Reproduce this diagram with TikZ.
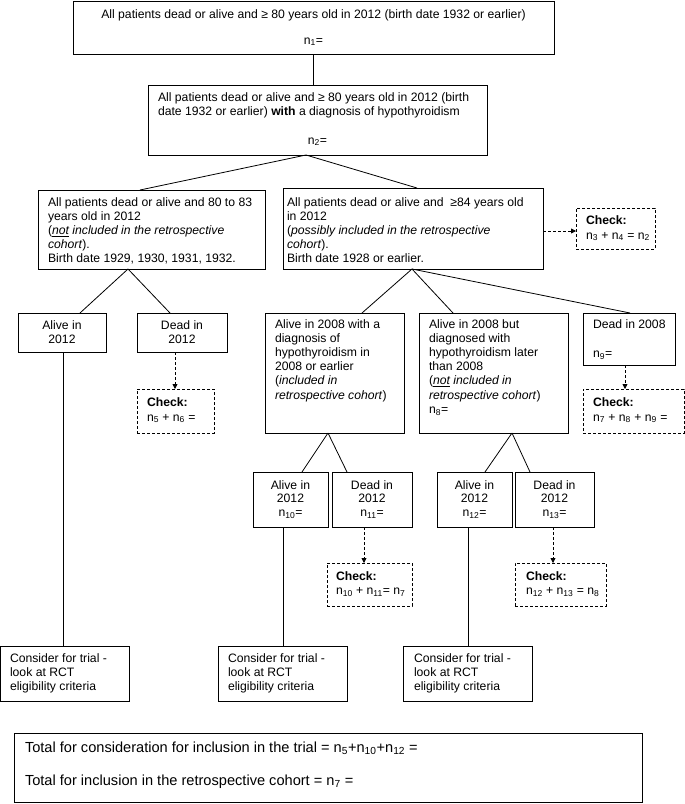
\documentclass[tikz,border=0pt]{standalone}
\usepackage{fontspec}
\setmainfont{Liberation Sans}
\usetikzlibrary{arrows.meta,fit,calc}
\newcommand{\ns}[1]{n\textsubscript{#1}}
\newcommand{\tl}[1]{\begin{tabular}[t]{@{}l@{}}#1\end{tabular}}
\newcommand{\tc}[1]{\begin{tabular}[t]{@{}c@{}}#1\end{tabular}}
\newcommand{\mybox}[6][]{\node[boxst,#1,fit={(#3,-#4) (#5,-#6)}] (#2) {};}
\tikzset{
  boxst/.style={draw=black, line width=0.8pt, rectangle, inner sep=0pt, outer sep=0pt},
  chkst/.style={boxst, dash pattern=on 3pt off 2pt},
  txt/.style={inner sep=0pt, outer sep=0pt, font=\fontsize{12.2}{14.2}\selectfont},
  bigtxt/.style={txt, font=\fontsize{14.6}{17}\selectfont},
  conn/.style={draw=black, line width=0.8pt},
  dconn/.style={conn, dash pattern=on 3pt off 2pt, -{Triangle[length=5pt,width=5pt]}}
}
\begin{document}
\begin{tikzpicture}[x=1pt,y=1pt]
\useasboundingbox (0,0) rectangle (685,-804);
% boxes
\mybox{b1}{73}{1.5}{554}{54}
\mybox{b2}{148}{85}{487}{155}
\mybox{b3}{38}{190}{265}{269}
\mybox{b4}{283}{188}{543}{269}
\mybox[chkst]{c1}{576}{208}{655}{249}
\mybox{a5}{18}{313}{106}{352}
\mybox{d6}{137}{313}{227}{352}
\mybox[chkst]{c56}{137}{389}{214}{433}
\mybox{ba}{265}{313}{404}{433}
\mybox{bb}{419}{313}{568}{433}
\mybox{d9}{583}{313}{675}{365}
\mybox[chkst]{c9}{583}{389}{684}{433}
\mybox{a10}{253}{472}{328}{527}
\mybox{d11}{332}{472}{412}{527}
\mybox{a12}{437}{472}{512}{527}
\mybox{d13}{515}{472}{594}{527}
\mybox[chkst]{c11}{327}{563}{412}{606}
\mybox[chkst]{c13}{515}{563}{606}{606}
\mybox{k1}{0.5}{646}{129}{701}
\mybox{k2}{218}{646}{347}{701}
\mybox{k3}{403}{646}{532}{701}
\mybox{tot}{14}{733}{642}{802.5}
% texts
\node[txt, anchor=base] (b1t) at (313.5,-18) {All patients dead or alive and ≥ 80 years old in 2012 (birth date 1932 or earlier)};
\node[txt, anchor=base] (b1n) at (313.5,-44) {\ns{1}=};
\node[txt, anchor=base west] (b2t) at (158,-101) {\tl{All patients dead or alive and ≥ 80 years old in 2012 (birth\\date 1932 or earlier) \textbf{with} a diagnosis of hypothyroidism}};
\node[txt, anchor=base] (b2n) at (317.5,-144) {\ns{2}=};
\node[txt, anchor=base west] (b3t) at (48,-206) {\tl{All patients dead or alive and 80 to 83\\years old in 2012\\(\textit{\underline{not} included in the retrospective}\\\textit{cohort}).\\Birth date 1929, 1930, 1931, 1932.}};
\node[txt, anchor=base west] (b4t) at (287,-206) {\tl{All patients dead or alive and \ ≥84 years old\\in 2012\\(\textit{possibly included in the retrospective}\\\textit{cohort}).\\Birth date 1928 or earlier.}};
\node[txt, anchor=base west] (c1t) at (586,-224) {\tl{\textbf{Check:}\\[0.8pt]\ns{3} + \ns{4} = \ns{2}}};
\node[txt, anchor=base] (a5t) at (62,-329) {\tc{Alive in\\2012}};
\node[txt, anchor=base] (d6t) at (182,-329) {\tc{Dead in\\2012}};
\node[txt, anchor=base west] (c56t) at (147,-406) {\tl{\textbf{Check:}\\[0.8pt]\ns{5} + \ns{6} =}};
\node[txt, anchor=base west] (bat) at (275,-328) {\tl{Alive in 2008 with a\\diagnosis of\\hypothyroidism in\\2008 or earlier\\(\textit{included in}\\\textit{retrospective cohort})}};
\node[txt, anchor=base west] (bbt) at (429,-328) {\tl{Alive in 2008 but\\diagnosed with\\hypothyroidism later\\than 2008\\(\textit{\underline{not} included in}\\\textit{retrospective cohort})\\\ns{8}=}};
\node[txt, anchor=base west] (d9t) at (593,-328) {\tl{Dead in 2008\\[15.5pt]\ns{9}=}};
\node[txt, anchor=base west] (c9t) at (593,-406) {\tl{\textbf{Check:}\\[0.8pt]\ns{7} + \ns{8} + \ns{9} =}};
\node[txt, anchor=base] (a10t) at (290.5,-489) {\tc{Alive in\\[-0.6pt]2012\\[-0.6pt]\ns{10}=}};
\node[txt, anchor=base] (d11t) at (372,-489) {\tc{Dead in\\[-0.6pt]2012\\[-0.6pt]\ns{11}=}};
\node[txt, anchor=base] (a12t) at (474.5,-489) {\tc{Alive in\\[-0.6pt]2012\\[-0.6pt]\ns{12}=}};
\node[txt, anchor=base] (d13t) at (554.5,-489) {\tc{Dead in\\[-0.6pt]2012\\[-0.6pt]\ns{13}=}};
\node[txt, anchor=base west] (c11t) at (336,-580) {\tl{\textbf{Check:}\\\ns{10} + \ns{11}= \ns{7}}};
\node[txt, anchor=base west] (c13t) at (526,-580) {\tl{\textbf{Check:}\\\ns{12} + \ns{13} = \ns{8}}};
\node[txt, anchor=base west] (k1t) at (10,-662) {\tl{Consider for trial -\\look at RCT\\eligibility criteria}};
\node[txt, anchor=base west] (k2t) at (228,-662) {\tl{Consider for trial -\\look at RCT\\eligibility criteria}};
\node[txt, anchor=base west] (k3t) at (414,-662) {\tl{Consider for trial -\\look at RCT\\eligibility criteria}};
\node[bigtxt, anchor=base west] (tott) at (25,-752) {\tl{Total for consideration for inclusion in the trial = \ns{5}+\ns{10}+\ns{12} =\\[16pt]Total for inclusion in the retrospective cohort = \ns{7} =}};
% connectors
\draw[conn] (b1.south) -- (b1.south |- b2.north);
\draw[conn] ($(b2.south west)+(158,0)$) -- ($(b3.north west)+(102,0)$);
\draw[conn] ($(b2.south west)+(158,0)$) -- ($(b4.north west)+(134,0)$);
\draw[conn] ($(b3.south west)+(90,0)$) -- ($(a5.north west)+(62,0)$);
\draw[conn] ($(b3.south west)+(90,0)$) -- ($(d6.north west)+(33,0)$);
\draw[conn] ($(b4.south west)+(129,0)$) -- ($(ba.north west)+(97,0)$);
\draw[conn] ($(b4.south west)+(129,0)$) -- ($(bb.north west)+(34,0)$);
\draw[conn] ($(b4.south west)+(129,0)$) -- ($(d9.north west)+(47,0)$);
\draw[conn] ($(ba.south west)+(63,0)$) -- ($(a10.north west)+(49,0)$);
\draw[conn] ($(ba.south west)+(63,0)$) -- ($(d11.north west)+(15,0)$);
\draw[conn] ($(bb.south west)+(93,0)$) -- ($(a12.north west)+(48,0)$);
\draw[conn] ($(bb.south west)+(93,0)$) -- ($(d13.north west)+(15,0)$);
\draw[conn] ($(a5.south west)+(45,0)$) -- ($(k1.north west)+(62.5,0)$);
\draw[conn] ($(a10.south west)+(30,0)$) -- ($(k2.north west)+(65,0)$);
\draw[conn] ($(a12.south west)+(31,0)$) -- ($(k3.north west)+(65,0)$);
\draw[dconn] ($(b4.east |- c1.west)+(0,-2.5)$) -- ($(c1.west)+(0,-2.5)$);
\draw[dconn] ($(d6.south west)+(38,0)$) -- ($(c56.north west)+(38,0)$);
\draw[dconn] ($(d9.south west)+(42,0)$) -- ($(c9.north west)+(42,0)$);
\draw[dconn] ($(d11.south west)+(32,0)$) -- ($(c11.north west)+(37,0)$);
\draw[dconn] ($(d13.south west)+(38,0)$) -- ($(c13.north west)+(38,0)$);
\end{tikzpicture}
\end{document}
